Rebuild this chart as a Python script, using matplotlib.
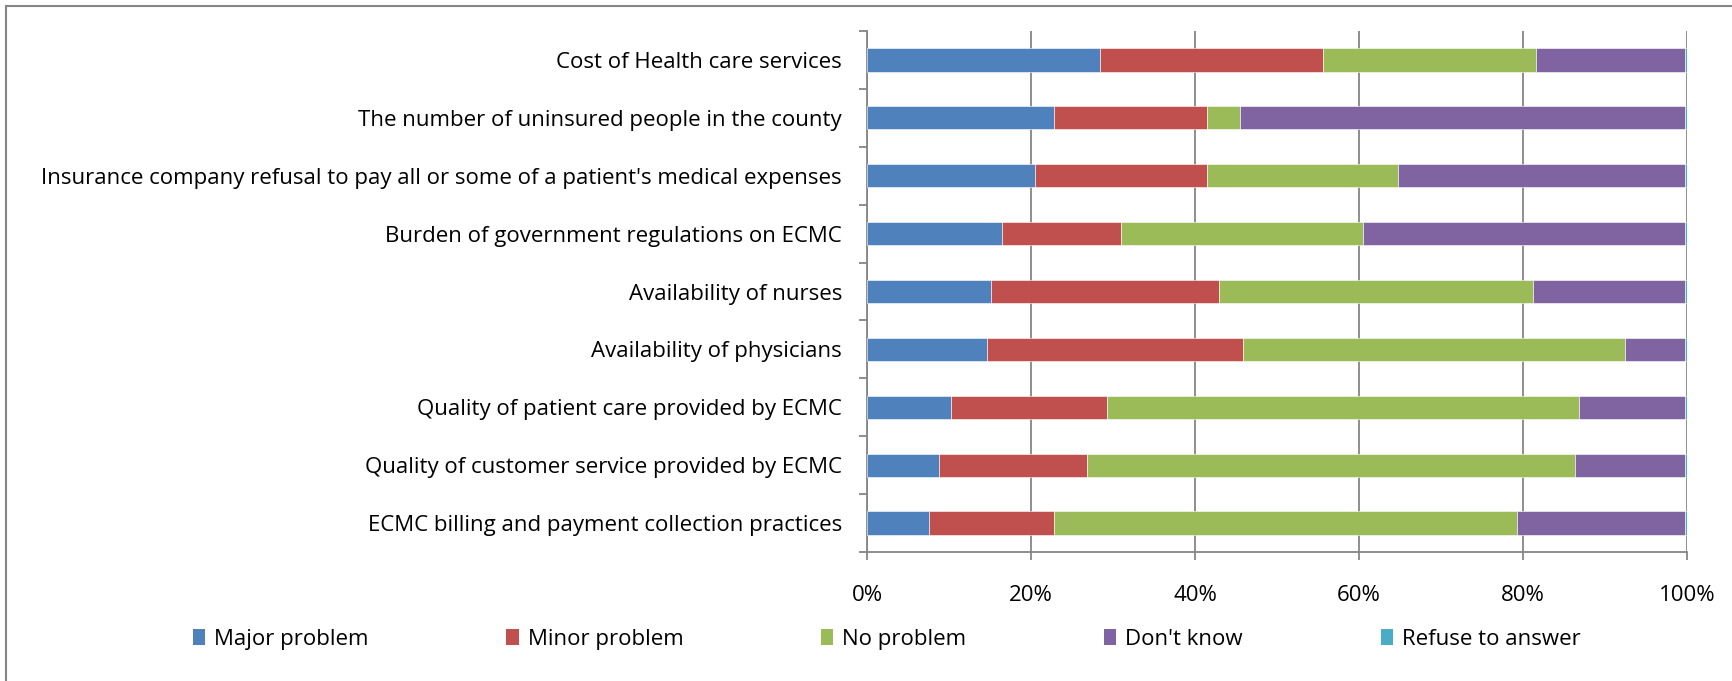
import matplotlib.pyplot as plt
import numpy as np
from matplotlib.patches import Patch

plt.rcParams['font.family'] = ['Open Sans', 'DejaVu Sans']

# categories, top to bottom
categorie = [
    "Cost of Health care services",
    "The number of uninsured people in the county",
    "Insurance company refusal to pay all or some of a patient's medical expenses",
    "Burden of government regulations on ECMC",
    "Availability of nurses",
    "Availability of physicians",
    "Quality of patient care provided by ECMC",
    "Quality of customer service provided by ECMC",
    "ECMC billing and payment collection practices",
]

# percentages for each answer
major = [28.4, 22.8, 20.5, 16.5, 15.1, 14.6, 10.3, 8.8, 7.6]
minor = [27.2, 18.7, 21.0, 14.5, 27.8, 31.2, 19.0, 18.0, 15.2]
nessuno = [26.0, 4.0, 23.2, 29.5, 38.3, 46.7, 57.5, 59.6, 56.5]
non_so = [18.1, 54.2, 35.0, 39.2, 18.5, 7.2, 12.9, 13.3, 20.4]
rifiuto = [0.3, 0.3, 0.3, 0.3, 0.3, 0.3, 0.3, 0.3, 0.3]

serie = ["Major problem", "Minor problem", "No problem", "Don't know", "Refuse to answer"]
colori = ['#4F81BD', '#C0504D', '#9BBB59', '#8064A2', '#4BACC6']

fig = plt.figure(figsize=(17.32, 6.81), dpi=100)
ax = fig.add_axes([0.5006, 0.1894, 0.4734, 0.7651])

y = np.arange(len(categorie))
sinistra = np.zeros(len(categorie))
for valori, colore in zip([major, minor, nessuno, non_so, rifiuto], colori):
    ax.barh(y, valori, left=sinistra, height=0.4, color=colore,
            edgecolor='#ffffff', linewidth=0.4, zorder=3)
    sinistra += np.array(valori)

ax.set_ylim(len(categorie) - 0.5, -0.5)
ax.set_xlim(0, 100)

# gridlines and axes
ax.set_xticks(np.arange(0, 101, 20))
ax.set_xticklabels([f"{v}%" for v in range(0, 101, 20)])
ax.grid(axis='x', color='#868686', linewidth=1.3, zorder=0)
for lato in ['top', 'right']:
    ax.spines[lato].set_visible(False)
for lato in ['left', 'bottom']:
    ax.spines[lato].set_color('#868686')
    ax.spines[lato].set_linewidth(1.3)

ax.set_yticks(y)
ax.set_yticklabels(categorie)
ax.set_yticks(np.arange(-0.5, len(categorie)), minor=True)
ax.tick_params(axis='y', which='major', length=0, pad=18, labelsize=16)
ax.tick_params(axis='y', which='minor', length=6, width=1.3, color='#868686')
ax.tick_params(axis='x', length=6, width=1.3, color='#868686', pad=18, labelsize=16)

# legend below the plot
maniglie = [Patch(facecolor=c, edgecolor='none') for c in colori]
fig.legend(maniglie, serie, loc='center', bbox_to_anchor=(0.512, 0.061), ncol=5,
           frameon=False, fontsize=16, handlelength=0.55, handleheight=0.75,
           handletextpad=0.4, columnspacing=6.2)

# chart area border
fig.add_artist(plt.Line2D([0.0035, 0.0035], [0, 0.991], transform=fig.transFigure,
                          color='#868686', linewidth=1.5))
fig.add_artist(plt.Line2D([0.0035, 1], [0.991, 0.991], transform=fig.transFigure,
                          color='#868686', linewidth=1.5))

fig.savefig('out.png', dpi=100)
